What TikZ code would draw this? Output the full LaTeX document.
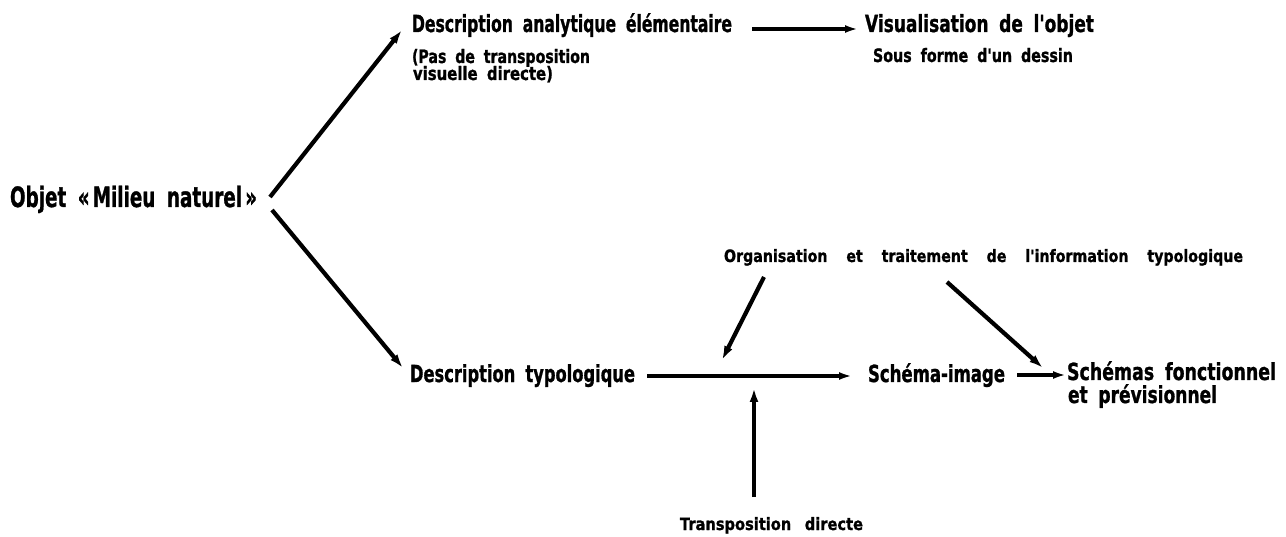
\documentclass[tikz,border=0pt]{standalone}
\usepackage{fontspec}
\usepackage{graphicx}
\newfontfamily\dfont{DejaVu Sans}[WordSpace=1.8,FakeBold=1.2]
\usetikzlibrary{arrows.meta,calc}
\newcommand{\fitw}[2]{\resizebox{#1pt}{\height}{#2}}
\begin{document}
\begin{tikzpicture}[x=1pt,y=-1pt,
  lbl/.style={anchor=base west,inner sep=0pt,outer sep=0pt},
  bigtxt/.style={lbl,font=\dfont\bfseries\fontsize{28}{30}\selectfont},
  maintxt/.style={lbl,font=\dfont\bfseries\fontsize{23.5}{25}\selectfont},
  smalltxt/.style={lbl,font=\dfont\bfseries\fontsize{18.5}{20}\selectfont},
  tinytxt/.style={lbl,font=\dfont\bfseries\fontsize{17}{19}\selectfont},
  arr/.style={line width=4.2pt,-{Latex[length=14pt,width=9pt]}},
  arrthin/.style={line width=3.2pt,-{Latex[length=13pt,width=8pt]}}]
\fill[white] (0,0) rectangle (1286,537);
\useasboundingbox (0,0) rectangle (1286,537);

% nodes
\node[bigtxt] (obj) at (10,207) {\fitw{247}{Objet «\,Milieu naturel\,»}};
\node[maintxt] (da) at (412,32) {\fitw{320}{Description analytique élémentaire}};
\node[smalltxt] (pas1) at (412,63) {\fitw{178}{(Pas de transposition}};
\node[smalltxt] (pas2) at (413,80) {\fitw{140}{visuelle directe)}};
\node[maintxt] (vis) at (865,32) {\fitw{229}{Visualisation de l'objet}};
\node[smalltxt] (sous) at (873,62) {\fitw{200}{Sous forme d'un dessin}};
\node[maintxt] (dt) at (410,382) {\fitw{225}{Description typologique}};
\node[maintxt] (si) at (868,382) {\fitw{137}{Schéma-image}};
\node[maintxt] (sf) at (1067,380) {\fitw{209}{Schémas fonctionnel}};
\node[maintxt] (ep) at (1068,403) {\fitw{149}{et prévisionnel}};
\node[tinytxt] (org) at (724,262) {\fitw{519}{Organisation\hspace{0.7em} et\hspace{0.7em} traitement\hspace{0.7em} de\hspace{0.7em} l'information\hspace{0.7em} typologique}};
\node[tinytxt] (tr) at (680,530) {\fitw{183}{Transposition\hspace{0.3em} directe}};

\coordinate (j1) at (722,360);
\coordinate (j2) at (754,388);

% connectors
\draw[arr] ($(obj.base east)+(13,-10)$) -- ($(da.base west)+(-10,-2)$);
\draw[arr] ($(obj.base east)+(15,3)$) -- ($(dt.base west)+(-7,-14)$);
\draw[arrthin] ($(da.base east)+(20,-3)$) -- ($(vis.base west)+(-7,-3)$);
\draw[arrthin] ($(dt.base east)+(12,-6)$) -- ($(si.base west)+(-16,-6)$);
\draw[arrthin] ($(si.base east)+(12,-7)$) -- ($(sf.base west)+(-1,-5)$);
\draw[arr] ($(org.base west)+(40,15)$) -- (j1);
\draw[arr] ($(org.base west)+(223,20)$) -- ($(sf.base west)+(-24,-12)$);
\draw[arr] ($(tr.base west)+(74,-33)$) -- (j2);
\end{tikzpicture}
\end{document}
